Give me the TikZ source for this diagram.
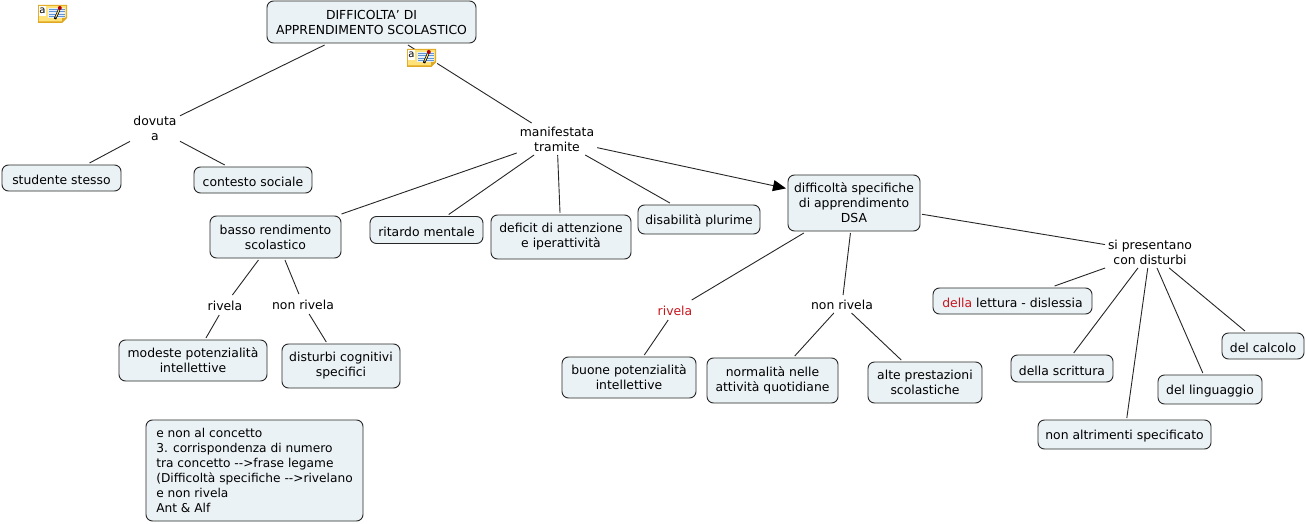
\documentclass[tikz,border=0pt]{standalone}
\usepackage{fontspec}
\setmainfont{DejaVu Sans}
\usetikzlibrary{arrows.meta}
\definecolor{boxfill}{HTML}{EBF2F5}
\definecolor{redtxt}{HTML}{C8161D}
\definecolor{noteY}{HTML}{FFE27A}
\definecolor{noteE}{HTML}{E0A820}
\definecolor{noteB}{HTML}{5F94D8}
\tikzset{
  base/.style={font=\fontsize{12.4}{15}\selectfont,align=center,text=black},
  cbox/.style={base,draw=black!85,fill=boxfill,rounded corners=6.5pt,line width=0.9pt,outer sep=2pt,inner sep=0pt,execute at begin node={\rule{0pt}{13.5pt}}},
  twoline/.style={execute at begin node={\rule{0pt}{15.5pt}}},
  notetext/.style={align=left,execute at begin node={\rule{0pt}{17.5pt}},font=\fontsize{12.2}{15}\selectfont},
  lbl/.style={base,inner sep=2pt,outer sep=1pt,execute at begin node={\rule{0pt}{11pt}}},
  link/.style={draw=black!85,line width=0.9pt},
  noteback/.style={fill=white,draw=none,minimum width=31pt,minimum height=20pt,inner sep=0pt},
  notemark/.style={font=\fontsize{10}{10}\selectfont,inner sep=0pt,text=black}
}
\newcommand{\noteicon}[2]{%
  \begin{scope}[shift={(#1,#2)}]
    \fill[noteE] (0,0) -- (29,0) -- (29,13) -- (24,18) -- (0,18) -- cycle;
    \fill[noteY] (0.8,0.8) -- (28,0.8) -- (28,12) -- (23.5,16.5) -- (0.8,16.5) -- cycle;
    \fill[white] (1,1) rectangle (8,11);
    \fill[white!85!noteB] (10,3) rectangle (27,13);
    \foreach \yy in {4,6.5,9,11.5} \draw[noteB,line width=0.7pt] (11,\yy) -- (27,\yy);
    \draw[black,line width=2.4pt] (17,14) -- (21,5);
    \draw[noteY,line width=1pt] (17.6,12.5) -- (21,5);
    \fill[red!70!black] (21.8,3) circle (2pt);
    \fill[noteE] (24,18) -- (24,13) -- (29,13) -- cycle;
    \node[notemark] (#1m) at (4.5,5.5) {a};
  \end{scope}}
\begin{document}
\begin{tikzpicture}[x=1pt,y=-1pt]
\useasboundingbox (0,0) rectangle (1306,524);
\fill[white] (0,0) rectangle (1306,524);
% nodes
\node[cbox,twoline,minimum width=209pt,minimum height=42pt] (top) at (371.5,22) {DIFFICOLTA' DI\\APPRENDIMENTO SCOLASTICO};
\node[lbl,minimum width=48pt,minimum height=28pt] (dov) at (155,128) {dovuta\\a};
\node[cbox,minimum width=119pt,minimum height=26pt] (stu) at (61.5,178) {studente stesso};
\node[cbox,minimum width=118pt,minimum height=26pt] (con) at (253,180) {contesto sociale};
\node[lbl,minimum width=76pt,minimum height=30pt] (man) at (557,139) {manifestata\\tramite};
\node[cbox,twoline,minimum width=131pt,minimum height=42pt] (bas) at (275.5,237) {basso rendimento\\scolastico};
\node[cbox,minimum width=113pt,minimum height=27pt] (rit) at (426.5,230) {ritardo mentale};
\node[cbox,twoline,minimum width=140pt,minimum height=44pt] (def) at (561,237) {deficit di attenzione\\e iperattività};
\node[cbox,minimum width=122pt,minimum height=29pt] (dis) at (699,219.5) {disabilità plurime};
\node[cbox,minimum width=132pt,minimum height=56pt] (dsa) at (854,203) {difficoltà specifiche\\di apprendimento\\DSA};
\node[lbl,minimum width=88pt,minimum height=30pt] (sip) at (1150,252) {si presentano\\con disturbi};
\node[cbox,minimum width=159pt,minimum height=26pt] (let) at (1012.5,301) {\textcolor{redtxt}{della} lettura - dislessia};
\node[cbox,minimum width=102pt,minimum height=27pt] (scr) at (1062,368.5) {della scrittura};
\node[cbox,minimum width=104pt,minimum height=29pt] (lin) at (1210,389.5) {del linguaggio};
\node[cbox,minimum width=82pt,minimum height=26pt] (cal) at (1263,346) {del calcolo};
\node[cbox,minimum width=173pt,minimum height=29pt] (alt) at (1124.5,434.5) {non altrimenti specificato};
\node[lbl,text=redtxt,minimum width=36pt,minimum height=18pt] (riv) at (675,310) {rivela};
\node[lbl,minimum width=62pt,minimum height=16pt] (nri) at (842,304) {non rivela};
\node[lbl,minimum width=36pt,minimum height=18pt] (rl) at (225,305) {rivela};
\node[lbl,minimum width=62pt,minimum height=18pt] (nl) at (303,304) {non rivela};
\node[cbox,twoline,minimum width=148pt,minimum height=41pt] (mod) at (193,360.5) {modeste potenzialità\\intellettive};
\node[cbox,twoline,minimum width=118pt,minimum height=44pt] (cog) at (341,366) {disturbi cognitivi\\specifici};
\node[cbox,twoline,minimum width=134pt,minimum height=41pt] (buo) at (629,377.5) {buone potenzialità\\intellettive};
\node[cbox,twoline,minimum width=131pt,minimum height=45pt] (nor) at (772.5,380.5) {normalità nelle\\attività quotidiane};
\node[cbox,twoline,minimum width=114pt,minimum height=41pt] (pre) at (925,382.5) {alte prestazioni\\scolastiche};
\node[cbox,notetext,minimum width=217pt,minimum height=101pt] (nota) at (254.5,470.5) {e non al concetto\\3. corrispondenza di numero\\tra concetto -{}->frase legame\\(Difficoltà specifiche -{}->rivelano\\e non rivela\\Ant \& Alf};
% connectors
\draw[link] (top) -- (dov);
\draw[link] (top) -- (man);
\draw[link] (dov) -- (stu);
\draw[link] (dov) -- (con);
\draw[link] (man) -- (bas);
\draw[link] (man) -- (rit);
\draw[link] (man) -- (def);
\draw[link] (man) -- (dis);
\draw[link,-{Triangle[length=13pt,width=11pt,color=black]}] (man) -- (dsa);
\draw[link] (dsa) -- (riv);
\draw[link] (dsa) -- (nri);
\draw[link] (dsa) -- (sip);
\draw[link] (riv) -- (buo);
\draw[link] (nri) -- (nor);
\draw[link] (nri) -- (pre);
\draw[link] (bas) -- (rl);
\draw[link] (bas) -- (nl);
\draw[link] (rl) -- (mod);
\draw[link] (nl) -- (cog);
\draw[link] (sip) -- (let);
\draw[link] (sip) -- (scr);
\draw[link] (sip) -- (alt);
\draw[link] (sip) -- (lin);
\draw[link] (sip) -- (cal);
% note icons
\node[noteback] (backb) at (421.5,59) {};
\noteicon{38}{5}
\noteicon{407}{49}
\end{tikzpicture}
\end{document}
